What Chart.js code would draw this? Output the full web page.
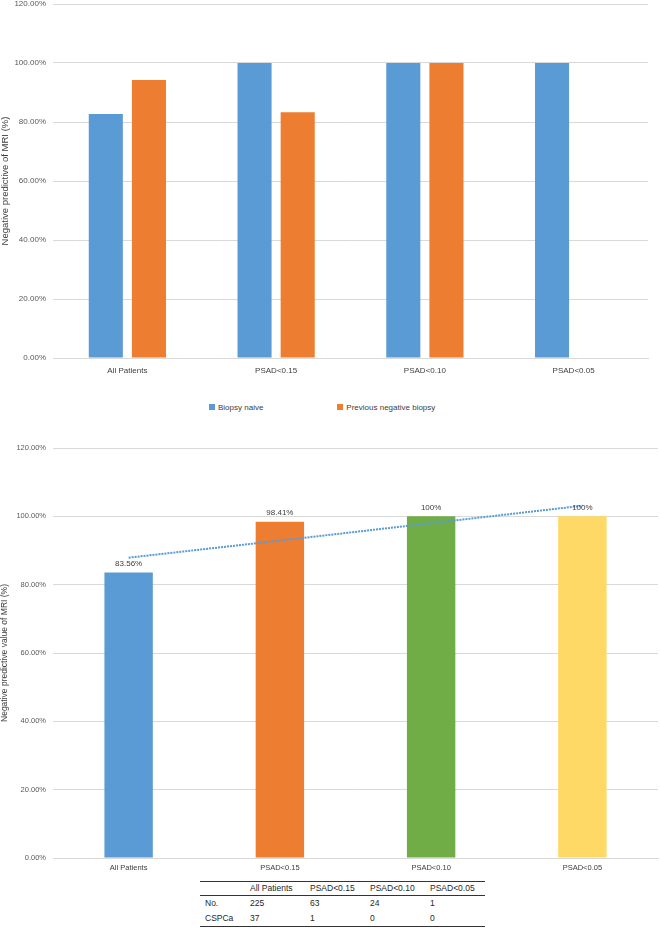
<!DOCTYPE html>
<html lang="en">
<head>
    <meta charset="UTF-8">
    <title>Negative predictive value of MRI</title>
    <script src="https://cdn.jsdelivr.net/npm/chart.js"></script>
    <style>
        body { margin: 0; background: #fff; font-family: 'Liberation Sans', Arial, sans-serif; }
        #page { position: relative; width: 660px; height: 928px; }
        .box { position: absolute; left: 0; }
        #legend { position: absolute; left: 209px; top: 402px; display: flex; gap: 74px; font-size: 8px; color: #404040; line-height: 12px; }
        #legend span.sw { display: inline-block; width: 6px; height: 6px; margin-right: 3px; vertical-align: 0px; }
        #tbl { position: absolute; left: 200px; top: 881px; border-collapse: collapse; font-size: 8.5px; color: #262626; }
        #tbl td { padding: 0 0 0 5px; height: 15px; line-height: 15px; white-space: nowrap; }
        #tbl tr.head td { border-top: 1.5px solid #333; border-bottom: 1px solid #333; height: 13px; line-height: 13px; }
        #tbl tr.last td { border-bottom: 1.2px solid #333; }
    </style>
</head>
<body>
<div id="page">
    <div class="box" style="top:0"><canvas id="top" width="660" height="390"></canvas></div>
    <div id="legend"></div>
    <div class="box" style="top:440px"><canvas id="bottom" width="660" height="440"></canvas></div>
    <table id="tbl"></table>
</div>

<script>
    // top chart: NPV by previous biopsy status
    const groups = ['All Patients', 'PSAD<0.15', 'PSAD<0.10', 'PSAD<0.05'];
    const biopsyNaive = [82.7, 100, 100, 100];
    const previousNegative = [94.2, 83.3, 100, null];

    // bottom chart: overall NPV per PSAD group
    const npvAll = [83.56, 98.41, 100, 100];
    const trendNpv = [87.9, 92.9, 98.0, 103.1];   // excel linear trendline
    const barColors = ['#5B9BD5', '#ED7D31', '#70AD47', '#FFD966'];

    // table under the bottom chart
    const tableHead = ['', 'All Patients', 'PSAD<0.15', 'PSAD<0.10', 'PSAD<0.05'];
    const countNo = ['No.', 225, 63, 24, 1];
    const countCspca = ['CSPCa', 37, 1, 0, 0];

    const yTicks = [0, 20, 40, 60, 80, 100, 120];

    const FONT = "'Liberation Sans', Arial, sans-serif";
    const GRID = '#D9D9D9';

    function yScale(title, size, titleSize, width) {
        return {
            min: 0, max: 120,
            afterBuildTicks: s => { s.ticks = yTicks.map(v => ({ value: v })); },
            afterFit: s => { s.width = width; s.paddingTop = 0; s.paddingBottom = 0; },
            ticks: {
                callback: v => v.toFixed(2) + '%',
                font: { family: FONT, size: size },
                color: '#595959',
                padding: 7
            },
            grid: { color: GRID, lineWidth: 1, drawTicks: false },
            border: { display: false },
            title: {
                display: true, text: title,
                font: { family: FONT, size: titleSize },
                color: '#404040',
                padding: 0
            }
        };
    }

    function xScale(size, height, pad) {
        return {
            afterFit: s => { s.height = height; },
            ticks: { font: { family: FONT, size: size }, color: '#404040', padding: pad, maxRotation: 0, autoSkip: false },
            grid: { display: false, drawTicks: false },
            border: { color: GRID, width: 1 }
        };
    }

    new Chart(document.getElementById('top'), {
        type: 'bar',
        data: {
            labels: groups,
            datasets: [
                { label: 'Biopsy naive', data: biopsyNaive, backgroundColor: '#5B9BD5' },
                { label: 'Previous negative biopsy', data: previousNegative, backgroundColor: '#ED7D31' }
            ]
        },
        options: {
            responsive: false,
            animation: false,
            categoryPercentage: 0.58,
            barPercentage: 0.79,
            layout: { padding: { top: 4, right: 12, left: 0, bottom: 0 } },
            plugins: { legend: { display: false }, tooltip: { enabled: false } },
            scales: {
                x: xScale(8, 32, 8),
                y: yScale('Negative predictive of MRI (%)', 8, 9.5, 53)
            }
        }
    });

    // html legend for the top chart
    const legend = document.getElementById('legend');
    [['Biopsy naive', '#5B9BD5'], ['Previous negative biopsy', '#ED7D31']].forEach(([t, c]) => {
        const item = document.createElement('div');
        item.innerHTML = `<span class="sw" style="background:${c}"></span>${t}`;
        legend.appendChild(item);
    });

    new Chart(document.getElementById('bottom'), {
        data: {
            labels: groups,
            datasets: [
                { type: 'line', label: 'Linear trend', data: trendNpv, borderColor: '#5B9BD5', borderWidth: 2,
                  borderDash: [2, 1], pointRadius: 0, fill: false, order: 0 },
                { type: 'bar', label: 'NPV', data: npvAll, backgroundColor: barColors, order: 1,
                  categoryPercentage: 0.32, barPercentage: 1 }
            ]
        },
        options: {
            responsive: false,
            animation: false,
            layout: { padding: { top: 8, right: 2, left: 0, bottom: 0 } },
            plugins: { legend: { display: false }, tooltip: { enabled: false } },
            scales: {
                x: xScale(7.5, 22, 5.5),
                y: yScale('Negative predictive value of MRI (%)', 7.5, 8.5, 53)
            }
        },
        plugins: [{
            id: 'valueLabels',
            afterDatasetsDraw(chart) {
                const ctx = chart.ctx;
                const meta = chart.getDatasetMeta(1);
                ctx.save();
                ctx.font = `8px ${FONT}`;
                ctx.fillStyle = '#404040';
                ctx.textAlign = 'center';
                ctx.textBaseline = 'middle';
                meta.data.forEach((el, i) => {
                    const v = npvAll[i];
                    const txt = Number.isInteger(v) ? v + '%' : v.toFixed(2) + '%';
                    ctx.fillText(txt, el.x, el.y - 9);
                });
                ctx.restore();
            }
        }]
    });

    // the counts table
    const widths = [45, 60, 60, 60, 60];
    const tbl = document.getElementById('tbl');
    [tableHead, countNo, countCspca].forEach((row, r) => {
        const tr = document.createElement('tr');
        if (r === 0) tr.className = 'head';
        if (r === 2) tr.className = 'last';
        row.forEach((cell, c) => {
            const td = document.createElement('td');
            td.style.width = (widths[c] - 5) + 'px';
            td.textContent = cell;
            tr.appendChild(td);
        });
        tbl.appendChild(tr);
    });
</script>
</body>
</html>
